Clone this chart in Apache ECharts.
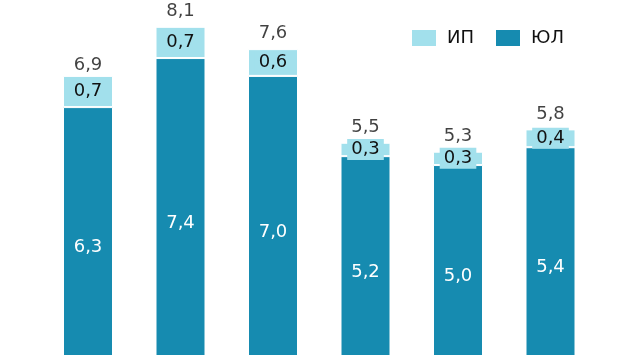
<!DOCTYPE html>
<html>
<head>
<meta charset="utf-8">
<script src="https://cdn.jsdelivr.net/npm/echarts@6/dist/echarts.min.js"></script>
<style>
html,body{margin:0;padding:0;background:#fff;}
#chart{width:630px;height:355px;}
</style>
</head>
<body>
<div id="chart"></div>
<script>
var categories = ['1', '2', '3', '4', '5', '6'];
var ulValues = [6.3, 7.4, 7.0, 5.2, 5.0, 5.4];
var ipValues = [0.7, 0.7, 0.6, 0.3, 0.3, 0.4];
var totals = [6.9, 8.1, 7.6, 5.5, 5.3, 5.8];
var seriesNames = ['ИП', 'ЮЛ'];

var COLOR_IP = '#a2e0ec';
var COLOR_UL = '#168bb0';
var TEXT_DARK = '#111111';
var FONT = '"DejaVu Sans", "Liberation Sans", Arial, sans-serif';

function fmt(v) { return v.toFixed(1).replace('.', ','); }

var chart = echarts.init(document.getElementById('chart'), null, {renderer: 'canvas'});
chart.setOption({
  animation: false,
  backgroundColor: '#ffffff',
  grid: {left: 41.75, right: 33.25, top: 9, bottom: -33, containLabel: false, outerBoundsMode: 'none'},
  legend: {
    data: seriesNames,
    left: 410,
    top: 28,
    padding: 0,
    itemWidth: 26,
    itemHeight: 18,
    itemGap: 20,
    icon: 'rect',
    textStyle: {fontFamily: FONT, fontSize: 18, color: TEXT_DARK, padding: [0, 0, 0, 5]}
  },
  xAxis: {type: 'category', data: categories, show: false},
  yAxis: {type: 'value', min: 0, max: 8.5, show: false, splitLine: {show: false}},
  series: [
    {
      name: 'ЮЛ', type: 'bar', stack: 'a', barWidth: 50, data: ulValues,
      itemStyle: {color: COLOR_UL, borderColor: '#ffffff', borderWidth: 1},
      label: {show: true, position: 'inside', color: '#ffffff', fontFamily: FONT, fontSize: 18,
        formatter: function (p) { return fmt(p.value); }}
    },
    {
      name: 'ИП', type: 'bar', stack: 'a', barWidth: 50, data: ipValues,
      itemStyle: {color: COLOR_IP, borderColor: '#ffffff', borderWidth: 1},
      label: {show: true, position: 'inside', color: TEXT_DARK, fontFamily: FONT, fontSize: 18,
        backgroundColor: COLOR_IP, padding: [2, 4, 1, 4],
        formatter: function (p) { return fmt(p.value); }}
    },
    {
      name: 'Итого', type: 'scatter', data: totals, symbolSize: 1, z: 5,
      itemStyle: {color: 'transparent'},
      label: {show: true, position: 'top', distance: 6, color: TEXT_DARK, fontFamily: FONT, fontSize: 18,
        formatter: function (p) { return fmt(p.value); }}
    }
  ]
});
</script>
</body>
</html>
